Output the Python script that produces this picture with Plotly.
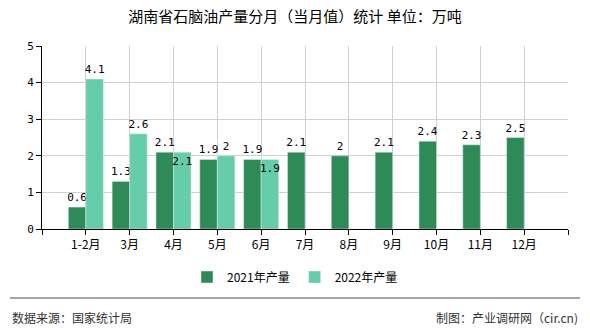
import plotly.graph_objects as go

categories = ["1-2月", "3月", "4月", "5月", "6月", "7月", "8月", "9月", "10月", "11月", "12月"]
values_2021 = [0.6, 1.3, 2.1, 1.9, 1.9, 2.1, 2, 2.1, 2.4, 2.3, 2.5]
values_2022 = [4.1, 2.6, 2.1, 2, 1.9, None, None, None, None, None, None]
y_ticks = [0, 1, 2, 3, 4, 5]

FONT = "Noto Sans CJK SC"
x_idx = list(range(len(categories)))

pos_2022 = ["outside", "outside", "inside", "outside", "inside"] + ["outside"] * 6

fig = go.Figure()
fig.add_trace(go.Bar(
    x=x_idx, y=values_2021, name="2021年产量", marker_color="#2E8B57",
    text=[str(v) for v in values_2021], textposition="outside", textangle=0,
    textfont=dict(family="DejaVu Sans Mono", size=11, color="#000"),
    cliponaxis=False,
))
fig.add_trace(go.Bar(
    x=x_idx, y=values_2022, name="2022年产量", marker_color="#66CDAA",
    text=[str(v) if v is not None else "" for v in values_2022], textposition=pos_2022,
    insidetextanchor="end", textangle=0,
    textfont=dict(family="DejaVu Sans Mono", size=11, color="#000"),
    cliponaxis=False,
))

W, H = 590, 330
L, R, T, B = 42, 22, 46, 101
pw = W - L - R
ph = H - T - B

def px_x(p):
    return (p - L) / pw

def px_y(p):
    return (H - B - p) / ph

fig.update_layout(
    width=W, height=H,
    margin=dict(l=L, r=R, t=T, b=B),
    paper_bgcolor="white", plot_bgcolor="white",
    barmode="group", bargap=0.2, bargroupgap=0,
    uniformtext=dict(minsize=11, mode="show"),
    font=dict(family=FONT, size=12, color="#000"),
    title=dict(text="湖南省石脑油产量分月（当月值）统计 单位：万吨", x=0.5, xanchor="center",
               y=1 - 17 / H, yanchor="middle", font=dict(family=FONT, size=15, color="#000")),
    showlegend=True,
    legend=dict(orientation="h", x=0.5 - (42 - 22) / 2 / pw, xanchor="center", y=px_y(277), yanchor="middle",
                font=dict(family=FONT, size=12, color="#000"), itemwidth=30),
    xaxis=dict(
        range=[-1, 11], tickmode="array",
        tickvals=[-1] + x_idx + [11], ticktext=[""] + categories + [""],
        showgrid=True, gridcolor="#d0d0d0", gridwidth=1,
        showline=True, linecolor="#000", linewidth=1,
        ticks="outside", ticklen=5, tickcolor="#000",
        tickfont=dict(family=FONT, size=12, color="#000"),
        zeroline=False,
    ),
    yaxis=dict(
        range=[0, 5], tickmode="array", tickvals=y_ticks,
        showgrid=True, gridcolor="#d0d0d0", gridwidth=1,
        showline=True, linecolor="#000", linewidth=1,
        ticks="outside", ticklen=5, tickcolor="#000",
        tickfont=dict(family="DejaVu Sans Mono", size=11, color="#000"),
        zeroline=False,
    ),
    shapes=[dict(type="line", xref="paper", yref="paper",
                 x0=px_x(10), x1=px_x(580), y0=px_y(298), y1=px_y(298),
                 line=dict(color="#888", width=1.5))],
    annotations=[
        dict(text="数据来源：国家统计局", xref="paper", yref="paper", x=px_x(10), y=px_y(317),
             xanchor="left", yanchor="middle", showarrow=False,
             font=dict(family=FONT, size=12, color="#333")),
        dict(text="制图：产业调研网（cir.cn)", xref="paper", yref="paper", x=px_x(580), y=px_y(317),
             xanchor="right", yanchor="middle", showarrow=False,
             font=dict(family=FONT, size=12, color="#333")),
    ],
)

fig.write_html("out.html")
